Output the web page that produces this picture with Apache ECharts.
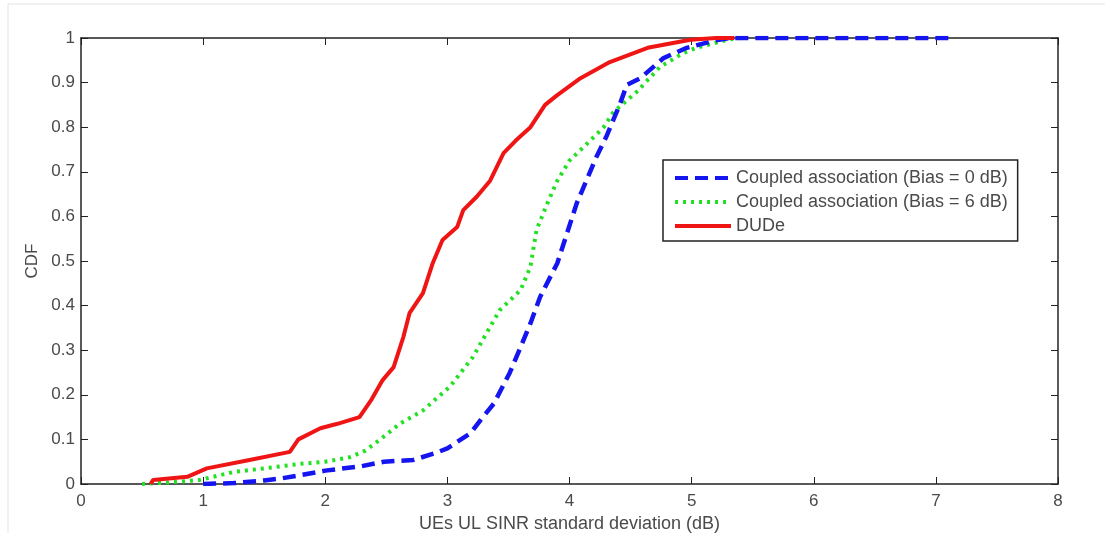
<!DOCTYPE html>
<html>
<head>
<meta charset="utf-8">
<script src="https://cdn.jsdelivr.net/npm/echarts@6/dist/echarts.min.js"></script>
<style>
  html, body { margin: 0; padding: 0; background: #fff; }
  #chart { width: 1105px; height: 533px; }
</style>
</head>
<body>
<div id="chart"></div>
<script>
// CDF points: [x (dB), CDF]
const bias0 = [
  [1.0, 0], [1.25, 0.002], [1.5, 0.008], [1.65, 0.013], [1.8, 0.02], [2.0, 0.03],
  [2.3, 0.04], [2.48, 0.05], [2.72, 0.054], [2.91, 0.07], [3.0, 0.08], [3.19, 0.114],
  [3.29, 0.15], [3.38, 0.18], [3.51, 0.249], [3.6, 0.307], [3.68, 0.36], [3.76, 0.42],
  [3.9, 0.495], [4.06, 0.63], [4.22, 0.733], [4.3, 0.778], [4.41, 0.85], [4.47, 0.895],
  [4.58, 0.91], [4.77, 0.955], [4.96, 0.978], [5.2, 0.995], [5.31, 1], [7.12, 1]
]
const bias6 = [
  [0.5, 0], [0.75, 0.004], [0.97, 0.009], [1.25, 0.027], [1.5, 0.035], [1.79, 0.045],
  [2.0, 0.05], [2.2, 0.06], [2.33, 0.075], [2.45, 0.1], [2.61, 0.135], [2.8, 0.165],
  [3.02, 0.218], [3.21, 0.285], [3.32, 0.338], [3.43, 0.39], [3.6, 0.435], [3.68, 0.487],
  [3.73, 0.57], [3.82, 0.63], [3.9, 0.68], [4.0, 0.725], [4.17, 0.77], [4.28, 0.8],
  [4.36, 0.834], [4.55, 0.879], [4.74, 0.935], [4.93, 0.966], [5.04, 0.978],
  [5.29, 0.996], [5.4, 1]
]
const dude = [
  [0.57, 0], [0.59, 0.009], [0.87, 0.016], [1.03, 0.035], [1.38, 0.054], [1.71, 0.072],
  [1.78, 0.1], [1.96, 0.125], [2.1, 0.135], [2.28, 0.15], [2.38, 0.19], [2.47, 0.233],
  [2.56, 0.262], [2.64, 0.33], [2.69, 0.383], [2.8, 0.428], [2.88, 0.495], [2.96, 0.547],
  [3.08, 0.576], [3.13, 0.614], [3.24, 0.644], [3.35, 0.68], [3.46, 0.742], [3.56, 0.77],
  [3.68, 0.8], [3.8, 0.85], [3.9, 0.872], [4.09, 0.91], [4.33, 0.946], [4.64, 0.978],
  [4.99, 0.996], [5.2, 1], [5.35, 1]
]
const names = [
  'Coupled association (Bias = 0 dB)',
  'Coupled association (Bias = 6 dB)',
  'DUDe'
]

const font = 'Liberation Sans, Arial, sans-serif'
const textGrey = '#4a4a4a'
const tickStyle = { show: true, inside: true, length: 7, lineStyle: { color: '#222', width: 1 } }
const lineAxis = { show: true, onZero: false, lineStyle: { color: '#222', width: 1.5 } }

const chart = echarts.init(document.getElementById('chart'))
chart.setOption({
  animation: false,
  // faint frame of the original figure
  graphic: [
    { type: 'line', shape: { x1: 8, y1: 4, x2: 1105, y2: 4 }, style: { stroke: '#ececec', lineWidth: 1.5 } },
    { type: 'line', shape: { x1: 8, y1: 4, x2: 8, y2: 533 }, style: { stroke: '#ececec', lineWidth: 1.5 } }
  ],
  grid: { left: 81, right: 47, top: 38, bottom: 49, outerBoundsMode: 'none' },
  legend: {
    orient: 'vertical',
    left: 663,
    top: 160,
    width: 359,
    padding: [9, 10, 6, 10],
    itemWidth: 56,
    itemHeight: 16,
    itemGap: 6,
    borderColor: '#222',
    borderWidth: 1.5,
    backgroundColor: '#fff',
    itemStyle: { opacity: 0 },
    lineStyle: { width: 4 },
    textStyle: { fontFamily: font, fontSize: 18, color: textGrey },
    data: names
  },
  xAxis: [{
    type: 'value',
    min: 0,
    max: 8,
    interval: 1,
    name: 'UEs UL SINR standard deviation (dB)',
    nameLocation: 'middle',
    nameGap: 27,
    nameTextStyle: { fontFamily: font, fontSize: 18, color: textGrey },
    axisLine: lineAxis,
    axisTick: tickStyle,
    axisLabel: { fontFamily: font, fontSize: 17, color: textGrey, margin: 9 },
    splitLine: { show: false }
  }, {
    type: 'value',
    position: 'top',
    min: 0,
    max: 8,
    interval: 1,
    axisLine: lineAxis,
    axisTick: tickStyle,
    axisLabel: { show: false },
    splitLine: { show: false }
  }],
  yAxis: [{
    type: 'value',
    min: 0,
    max: 1,
    interval: 0.1,
    name: 'CDF',
    nameLocation: 'middle',
    nameGap: 40,
    nameTextStyle: { fontFamily: font, fontSize: 17, color: textGrey },
    axisLine: lineAxis,
    axisTick: tickStyle,
    axisLabel: { fontFamily: font, fontSize: 17, color: textGrey, margin: 6 },
    splitLine: { show: false }
  }, {
    type: 'value',
    position: 'right',
    min: 0,
    max: 1,
    interval: 0.1,
    axisLine: lineAxis,
    axisTick: tickStyle,
    axisLabel: { show: false },
    splitLine: { show: false }
  }],
  series: [
    {
      name: names[0],
      type: 'line',
      data: bias0,
      symbol: 'none',
      z: 3,
      lineStyle: { color: '#1515f0', width: 4.5, type: [13, 7] },
      itemStyle: { color: '#1515f0' }
    },
    {
      name: names[1],
      type: 'line',
      data: bias6,
      symbol: 'none',
      z: 2,
      lineStyle: { color: '#22e022', width: 4, type: [3, 5] },
      itemStyle: { color: '#22e022' }
    },
    {
      name: names[2],
      type: 'line',
      data: dude,
      symbol: 'none',
      z: 4,
      lineStyle: { color: '#f01515', width: 4 },
      itemStyle: { color: '#f01515' }
    }
  ]
})
</script>
</body>
</html>
